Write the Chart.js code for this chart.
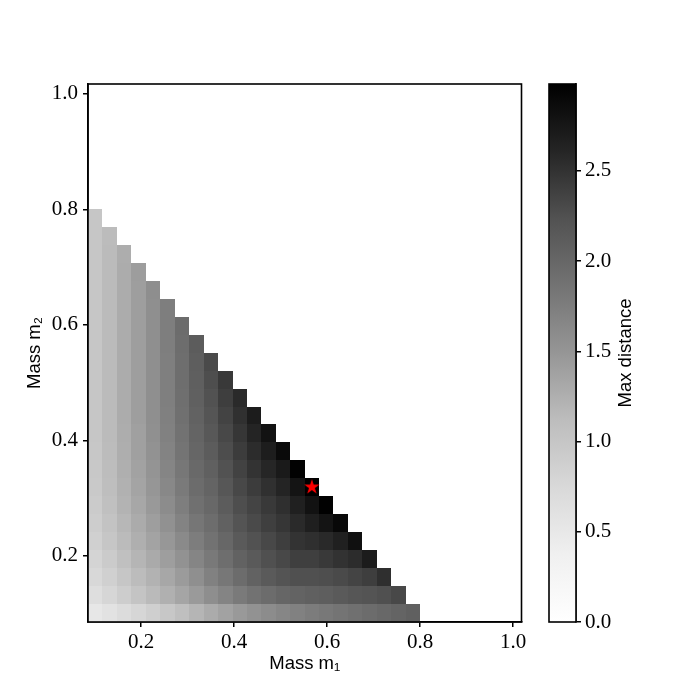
<!DOCTYPE html>
<html>
<head>
<meta charset="utf-8">
<script src="https://cdn.jsdelivr.net/npm/chart.js@4.4.1/dist/chart.umd.min.js"></script>
<style>
  html, body { margin: 0; padding: 0; background: #fff; }
  #wrap { position: relative; width: 700px; height: 700px; }
  #wrap canvas { position: absolute; left: 0; top: 0; }
</style>
</head>
<body>
<div id="wrap">
  <canvas id="heatmap" width="700" height="700"></canvas>
  <canvas id="colorbar" width="700" height="700"></canvas>
</div>
<script>
// cell centres of the mass grid (same grid for m1 and m2)
const m1Values = [0.101, 0.132, 0.163, 0.194, 0.225, 0.256, 0.288, 0.319, 0.350, 0.381, 0.412, 0.443,
                  0.474, 0.505, 0.536, 0.567, 0.598, 0.629, 0.660, 0.691, 0.722, 0.753, 0.785];
const m2Values = m1Values.slice();

// max distance for each m1 column, listed from the lowest m2 upward
const dist00 = [0.52, 0.67, 0.76, 0.81, 0.87, 0.91, 0.93, 0.96, 0.97, 0.99, 1.00, 1.00, 1.00, 1.00, 1.00, 1.00, 1.00, 1.00, 1.00, 1.00, 1.00, 1.00, 1.00];
const dist01 = [0.60, 0.79, 0.87, 0.93, 1.00, 1.04, 1.08, 1.10, 1.12, 1.13, 1.14, 1.14, 1.14, 1.14, 1.14, 1.14, 1.14, 1.14, 1.14, 1.14, 1.14, 1.13];
const dist02 = [0.70, 0.91, 1.00, 1.08, 1.14, 1.18, 1.21, 1.23, 1.25, 1.26, 1.27, 1.28, 1.28, 1.28, 1.28, 1.28, 1.28, 1.28, 1.28, 1.28, 1.27];
const dist03 = [0.79, 1.02, 1.13, 1.19, 1.25, 1.29, 1.33, 1.36, 1.38, 1.40, 1.40, 1.41, 1.41, 1.41, 1.41, 1.41, 1.41, 1.41, 1.41, 1.42];
const dist04 = [0.88, 1.15, 1.22, 1.30, 1.37, 1.41, 1.46, 1.49, 1.51, 1.53, 1.56, 1.57, 1.57, 1.57, 1.57, 1.57, 1.57, 1.57, 1.58];
const dist05 = [0.99, 1.24, 1.33, 1.41, 1.48, 1.54, 1.60, 1.64, 1.67, 1.69, 1.71, 1.73, 1.74, 1.74, 1.74, 1.75, 1.75, 1.75];
const dist06 = [1.09, 1.35, 1.44, 1.53, 1.62, 1.69, 1.75, 1.79, 1.82, 1.85, 1.88, 1.90, 1.91, 1.92, 1.92, 1.93, 1.94];
const dist07 = [1.19, 1.45, 1.57, 1.67, 1.76, 1.83, 1.90, 1.94, 1.98, 2.01, 2.03, 2.06, 2.08, 2.09, 2.10, 2.12];
const dist08 = [1.29, 1.58, 1.71, 1.80, 1.88, 1.93, 1.99, 2.03, 2.08, 2.12, 2.17, 2.20, 2.24, 2.27, 2.30];
const dist09 = [1.38, 1.68, 1.82, 1.92, 2.00, 2.07, 2.12, 2.18, 2.24, 2.28, 2.32, 2.36, 2.40, 2.44];
const dist10 = [1.46, 1.79, 1.94, 2.06, 2.15, 2.21, 2.27, 2.32, 2.37, 2.42, 2.47, 2.52, 2.57];
const dist11 = [1.53, 1.88, 2.06, 2.15, 2.24, 2.30, 2.35, 2.42, 2.49, 2.55, 2.62, 2.70];
const dist12 = [1.60, 1.94, 2.15, 2.25, 2.32, 2.39, 2.44, 2.52, 2.60, 2.69, 2.80];
const dist13 = [1.66, 2.01, 2.21, 2.32, 2.40, 2.47, 2.53, 2.62, 2.72, 2.88];
const dist14 = [1.71, 2.05, 2.25, 2.39, 2.49, 2.57, 2.66, 2.78, 2.96];
const dist15 = [1.77, 2.08, 2.25, 2.39, 2.53, 2.67, 2.80, 2.98];
const dist16 = [1.81, 2.10, 2.27, 2.44, 2.58, 2.78, 2.97];
const dist17 = [1.85, 2.15, 2.30, 2.50, 2.66, 2.90];
const dist18 = [1.90, 2.19, 2.35, 2.55, 2.82];
const dist19 = [1.94, 2.21, 2.40, 2.70];
const dist20 = [1.99, 2.25, 2.53];
const dist21 = [2.03, 2.32];
const dist22 = [2.08];
const maxDistance = [dist00, dist01, dist02, dist03, dist04, dist05, dist06, dist07, dist08, dist09, dist10, dist11,
                     dist12, dist13, dist14, dist15, dist16, dist17, dist18, dist19, dist20, dist21, dist22];

// location of the maximum (red star)
const starPoint = [{ x: 0.567, y: 0.319 }];

const xTicks = [0.2, 0.4, 0.6, 0.8, 1.0];
const yTicks = [0.2, 0.4, 0.6, 0.8, 1.0];
const cbTicks = [0.0, 0.5, 1.0, 1.5, 2.0, 2.5];
const vMin = 0;
const vMax = 2.982;

// matplotlib "Greys" colormap
const greysStops = [255, 240, 217, 189, 150, 115, 82, 37, 0];
function greys(t) {
    t = Math.min(1, Math.max(0, t));
    const p = t * 8;
    const i = Math.min(7, Math.floor(p));
    const g = Math.round(greysStops[i] + (greysStops[i + 1] - greysStops[i]) * (p - i));
    return `rgb(${g},${g},${g})`;
}

// cell edges halfway between neighbouring centres
function edges(vals) {
    const half = (vals[vals.length - 1] - vals[0]) / (vals.length - 1) / 2;
    const out = [vals[0] - half];
    for (let i = 1; i < vals.length; i++) out.push((vals[i - 1] + vals[i]) / 2);
    out.push(vals[vals.length - 1] + half);
    return out;
}
const m1Edges = edges(m1Values);
const m2Edges = edges(m2Values);

function makeStar(R) {
    const size = Math.ceil(R * 2 + 2);
    const c = document.createElement('canvas');
    c.width = c.height = size;
    const g = c.getContext('2d');
    g.beginPath();
    for (let k = 0; k < 10; k++) {
        const r = k % 2 ? R * 0.382 : R;
        const a = -Math.PI / 2 + k * Math.PI / 5;
        g.lineTo(size / 2 + r * Math.cos(a), size / 2 + r * Math.sin(a));
    }
    g.closePath();
    g.fillStyle = '#ff0000';
    g.fill();
    return c;
}

const heatmapPlugin = {
    id: 'heatmapCells',
    beforeDatasetsDraw(chart) {
        const { ctx, scales: { x, y } } = chart;
        ctx.save();
        maxDistance.forEach((col, i) => {
            const x0 = Math.round(x.getPixelForValue(m1Edges[i]));
            const x1 = Math.round(x.getPixelForValue(m1Edges[i + 1]));
            col.forEach((v, j) => {
                const y0 = Math.round(y.getPixelForValue(m2Edges[j + 1]));
                const y1 = Math.round(y.getPixelForValue(m2Edges[j]));
                ctx.fillStyle = greys((v - vMin) / (vMax - vMin));
                ctx.fillRect(x0, y0, x1 - x0, y1 - y0);
            });
        });
        ctx.restore();
    }
};

const framePlugin = {
    id: 'frame',
    afterDatasetsDraw(chart) {
        const { ctx, chartArea: a } = chart;
        ctx.save();
        ctx.strokeStyle = '#000';
        ctx.lineWidth = 1.6;
        ctx.strokeRect(a.left, a.top, a.right - a.left, a.bottom - a.top);
        ctx.restore();
    }
};

const colorbarPlugin = {
    id: 'colorbarFill',
    beforeDatasetsDraw(chart) {
        const { ctx, chartArea: a, scales: { y } } = chart;
        const grad = ctx.createLinearGradient(0, y.getPixelForValue(vMin), 0, y.getPixelForValue(vMax));
        greysStops.forEach((g, k) => grad.addColorStop(k / 8, `rgb(${g},${g},${g})`));
        ctx.save();
        ctx.fillStyle = grad;
        ctx.fillRect(a.left, a.top, a.right - a.left, a.bottom - a.top);
        ctx.strokeStyle = '#000';
        ctx.lineWidth = 1.6;
        ctx.strokeRect(a.left, a.top, a.right - a.left, a.bottom - a.top);
        // colorbar label, reads bottom to top
        ctx.translate(626, (a.top + a.bottom) / 2);
        ctx.rotate(-Math.PI / 2);
        ctx.fillStyle = '#000';
        ctx.font = '18.5px "Liberation Sans"';
        ctx.textAlign = 'center';
        ctx.textBaseline = 'middle';
        ctx.fillText('Max distance', 0, 0);
        ctx.restore();
    }
};

const tickFont = { family: 'Liberation Serif', size: 21 };
const titleFont = { family: 'Liberation Sans', size: 18.5 };
const tickGrid = { drawOnChartArea: false, drawTicks: true, tickLength: 5, color: '#000', lineWidth: 1.5 };
const axisBorder = { display: true, color: '#000', width: 1.6 };

new Chart(document.getElementById('heatmap'), {
    type: 'scatter',
    data: {
        datasets: [{
            data: starPoint,
            pointStyle: makeStar(8),
            pointRadius: 8,
            backgroundColor: '#ff0000',
            borderColor: '#ff0000'
        }]
    },
    options: {
        responsive: false,
        animation: false,
        devicePixelRatio: 1,
        layout: { padding: { left: 0, top: 84, right: 178.5, bottom: 0 } },
        plugins: { legend: { display: false }, tooltip: { enabled: false } },
        scales: {
            x: {
                type: 'linear',
                min: m1Edges[0],
                max: 1.018,
                afterFit: s => { s.height = 78; },
                afterBuildTicks: s => { s.ticks = xTicks.map(v => ({ value: v })); },
                grid: tickGrid,
                border: axisBorder,
                ticks: { color: '#000', font: tickFont, padding: 3, maxRotation: 0, callback: v => v.toFixed(1) },
                title: { display: true, text: 'Mass m₁', color: '#000', font: titleFont, padding: { top: 0, bottom: 25 } }
            },
            y: {
                type: 'linear',
                min: m2Edges[0],
                max: 1.017,
                afterFit: s => { s.width = 88; },
                afterBuildTicks: s => { s.ticks = yTicks.map(v => ({ value: v })); },
                grid: tickGrid,
                border: axisBorder,
                ticks: { color: '#000', font: tickFont, padding: 5, callback: v => v.toFixed(1) },
                title: { display: true, text: 'Mass m₂', color: '#000', font: titleFont, padding: { top: 24, bottom: 0 } }
            }
        }
    },
    plugins: [heatmapPlugin, framePlugin]
});

new Chart(document.getElementById('colorbar'), {
    type: 'scatter',
    data: { datasets: [{ data: [] }] },
    options: {
        responsive: false,
        animation: false,
        devicePixelRatio: 1,
        layout: { padding: { left: 549, top: 84, right: 0, bottom: 78 } },
        plugins: { legend: { display: false }, tooltip: { enabled: false } },
        scales: {
            x: { display: false, min: 0, max: 1 },
            y: {
                type: 'linear',
                position: 'right',
                min: vMin,
                max: vMax,
                afterFit: s => { s.width = 124; },
                afterBuildTicks: s => { s.ticks = cbTicks.map(v => ({ value: v })); },
                grid: tickGrid,
                border: axisBorder,
                ticks: { color: '#000', font: tickFont, padding: 4, callback: v => v.toFixed(1) }
            }
        }
    },
    plugins: [colorbarPlugin]
});
</script>
</body>
</html>
